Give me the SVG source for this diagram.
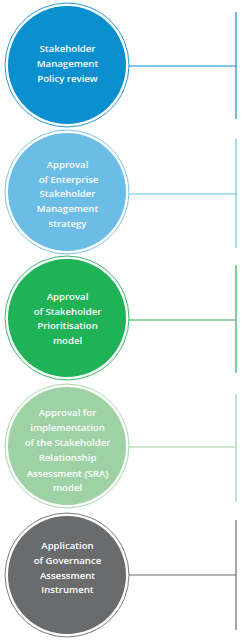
<svg xmlns="http://www.w3.org/2000/svg" width="242" height="641" viewBox="0 0 242 641">
<style>
.ring{fill:none;stroke-width:0.9}
.lbl{font-family:"Open Sans","Noto Sans","Liberation Sans",sans-serif;font-weight:600;font-size:9.6px;fill:#ffffff;text-anchor:middle}
.ln{fill:none;stroke-width:1.2}
</style>
<rect width="242" height="641" fill="#ffffff"/>
<g id="connectors">
<path class="ln" stroke="#0a8fcf" d="M129 66H236M236 12V119"/>
<path class="ln" stroke="#6bbde6" d="M129 194H236M236 139V248"/>
<path class="ln" stroke="#1fb257" d="M129 320H236M236 265V373"/>
<path class="ln" stroke="#9ed2a4" d="M129 447H236M236 394V502"/>
<path class="ln" stroke="#6a6b6d" d="M129 575H236M236 520V630"/>
</g>
<g id="node1">
<circle cx="67" cy="65" r="59" fill="#0a8fcf"/>
<circle class="ring" cx="67" cy="65" r="62" stroke="#0a8fcf"/>
<text class="lbl" x="67.5" y="52">Stakeholder</text>
<text class="lbl" x="67.5" y="67">Management</text>
<text class="lbl" x="67.5" y="82">Policy review</text>
</g>
<g id="node2">
<circle cx="67" cy="192" r="59" fill="#6bbde6"/>
<circle class="ring" cx="67" cy="192" r="62" stroke="#6bbde6"/>
<text class="lbl" x="67.5" y="168">Approval</text>
<text class="lbl" x="68.5" y="182.7">of Enterprise</text>
<text class="lbl" x="67.5" y="197.3">Stakeholder</text>
<text class="lbl" x="67.5" y="211.8">Management</text>
<text class="lbl" x="67.5" y="226.5">strategy</text>
</g>
<g id="node3">
<circle cx="67" cy="318" r="59" fill="#1fb257"/>
<circle class="ring" cx="67" cy="318" r="62" stroke="#1fb257"/>
<text class="lbl" x="67.5" y="300">Approval</text>
<text class="lbl" x="67.5" y="314.5">of Stakeholder</text>
<text class="lbl" x="67.5" y="329">Prioritisation</text>
<text class="lbl" x="67.5" y="343.5">model</text>
</g>
<g id="node4">
<circle cx="67" cy="446" r="59" fill="#9ed2a4"/>
<circle class="ring" cx="67" cy="446" r="62" stroke="#9ed2a4"/>
<text class="lbl" x="67.5" y="416">Approval for</text>
<text class="lbl" x="67.5" y="431">implementation</text>
<text class="lbl" x="67.5" y="446">of the Stakeholder</text>
<text class="lbl" x="67.5" y="461">Relationship</text>
<text class="lbl" x="67.5" y="476.5">Assessment (SRA)</text>
<text class="lbl" x="67.5" y="491">model</text>
</g>
<g id="node5">
<circle cx="67" cy="575" r="59" fill="#6a6b6d"/>
<circle class="ring" cx="67" cy="575" r="62" stroke="#6a6b6d"/>
<text class="lbl" x="67.5" y="549.3">Application</text>
<text class="lbl" x="67.5" y="564">of Governance</text>
<text class="lbl" x="67.5" y="578.5">Assessment</text>
<text class="lbl" x="67.5" y="593.3">Instrument</text>
</g>
</svg>
